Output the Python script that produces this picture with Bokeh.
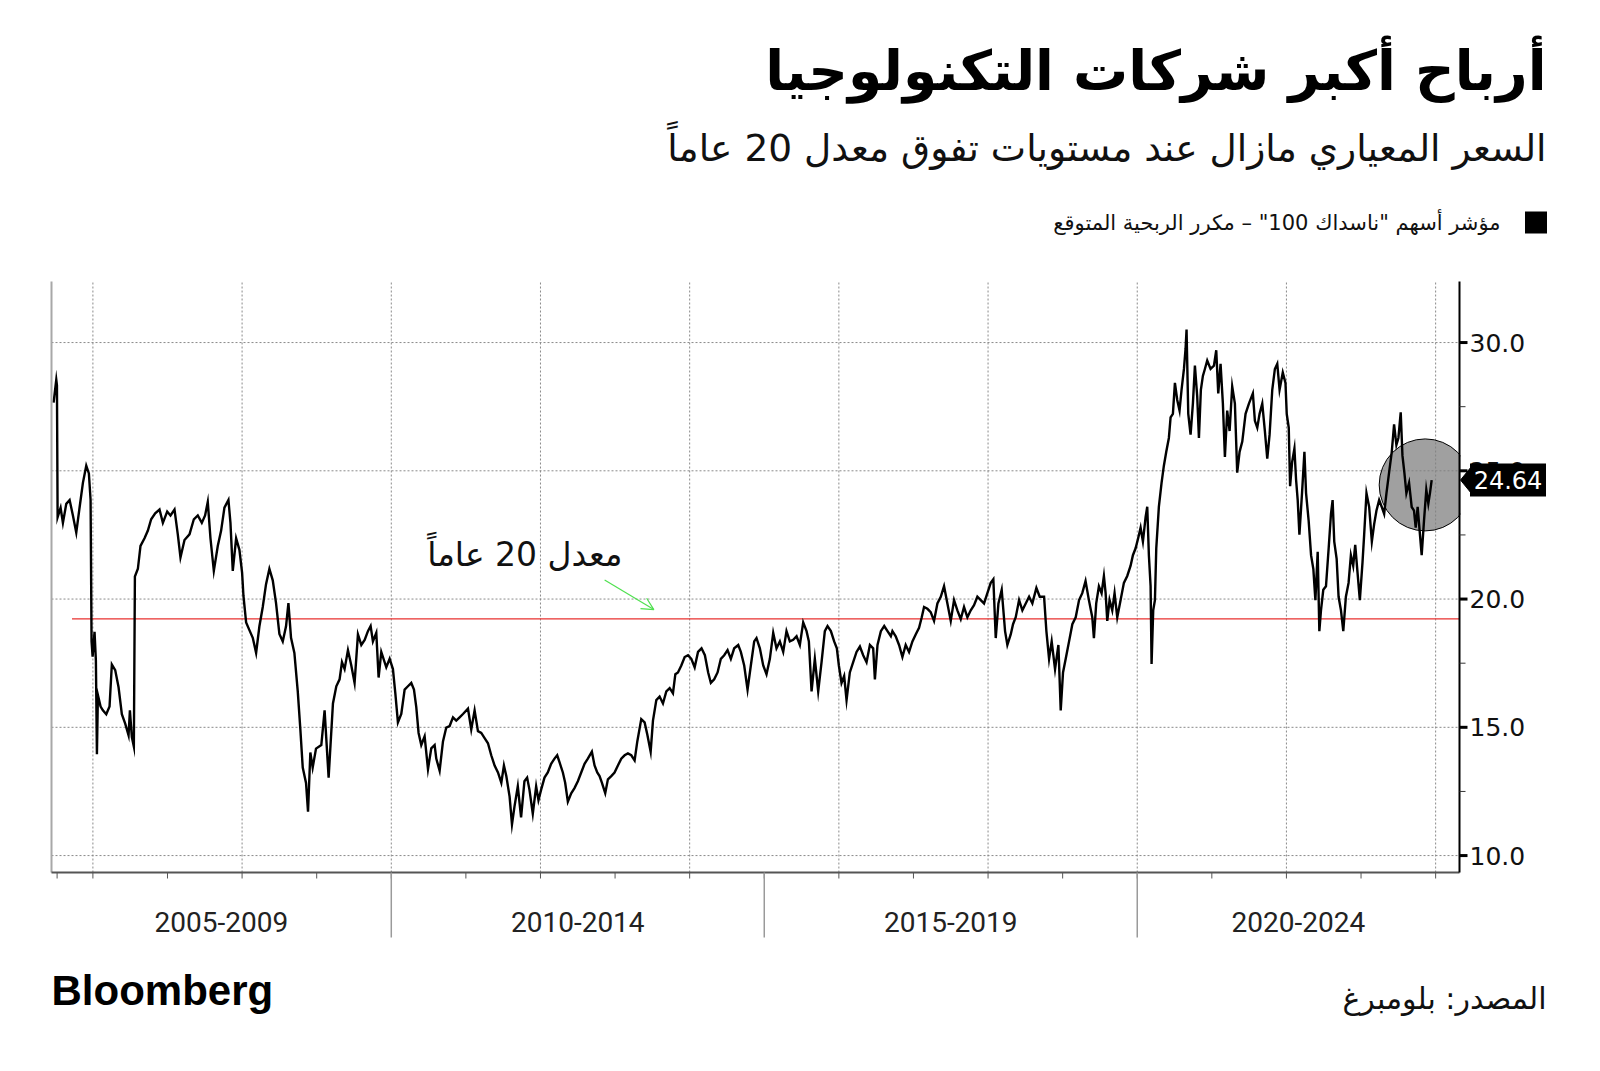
from bokeh.plotting import figure
from bokeh.models import Range1d, Arrow, OpenHead, ColumnDataSource
from bokeh.core.properties import value
from bokeh.embed import file_html
from bokeh.resources import INLINE

# ---------------- data ----------------
title_text = "أرباح أكبر شركات التكنولوجيا"
subtitle_text = "السعر المعياري مازال عند مستويات تفوق معدل 20 عاماً"
legend_text = 'مؤشر أسهم "ناسداك 100" – مكرر الربحية المتوقع'
avg_label = "معدل 20 عاماً"
source_text = "المصدر: بلومبرغ"
brand_text = "Bloomberg"

period_labels = ["2005-2009", "2010-2014", "2015-2019", "2020-2024"]
period_bounds = [2010, 2015, 2020]
y_ticks = [10, 15, 20, 25, 30]
y_minor_ticks = [12.5, 17.5, 22.5, 27.5]
avg_20y = 19.23
last_value = 24.64

years = [
    2005.473, 2005.509, 2005.518, 2005.527, 2005.567, 2005.598, 2005.643, 2005.688, 2005.732, 2005.777,
    2005.821, 2005.866, 2005.911, 2005.946, 2005.969, 2005.982, 2005.996, 2006.022, 2006.040, 2006.054,
    2006.067, 2006.103, 2006.134, 2006.179, 2006.223, 2006.254, 2006.299, 2006.344, 2006.388, 2006.433,
    2006.478, 2006.496, 2006.522, 2006.549, 2006.563, 2006.603, 2006.638, 2006.692, 2006.737, 2006.781,
    2006.835, 2006.893, 2006.938, 2006.996, 2007.040, 2007.094, 2007.138, 2007.174, 2007.228, 2007.295,
    2007.353, 2007.406, 2007.460, 2007.504, 2007.540, 2007.576, 2007.621, 2007.674, 2007.719, 2007.763,
    2007.817, 2007.844, 2007.875, 2007.920, 2007.964, 2008.000, 2008.018, 2008.054, 2008.098, 2008.143,
    2008.188, 2008.232, 2008.277, 2008.321, 2008.366, 2008.411, 2008.455, 2008.500, 2008.545, 2008.589,
    2008.621, 2008.656, 2008.701, 2008.746, 2008.781, 2008.813, 2008.857, 2008.884, 2008.915, 2008.946,
    2008.991,
    2009.062, 2009.106, 2009.160, 2009.218, 2009.263, 2009.307, 2009.339, 2009.374, 2009.419, 2009.464,
    2009.508, 2009.553, 2009.598, 2009.643, 2009.687, 2009.723, 2009.754, 2009.799, 2009.830, 2009.866,
    2009.933, 2009.978, 2010.022, 2010.054, 2010.089, 2010.134, 2010.179, 2010.223, 2010.268, 2010.304,
    2010.335, 2010.366, 2010.402, 2010.447, 2010.492, 2010.536, 2010.581, 2010.603, 2010.648, 2010.693,
    2010.737, 2010.782, 2010.827, 2010.871, 2010.916, 2010.961, 2011.028, 2011.072, 2011.117, 2011.162,
    2011.206, 2011.251, 2011.296, 2011.340, 2011.385, 2011.430, 2011.475, 2011.510, 2011.542, 2011.586,
    2011.618,
    2011.651, 2011.696, 2011.740, 2011.785, 2011.821, 2011.852, 2011.897, 2011.942, 2011.973, 2012.009,
    2012.054, 2012.098, 2012.143, 2012.188, 2012.224, 2012.255, 2012.300, 2012.331, 2012.367, 2012.412,
    2012.456, 2012.501, 2012.546, 2012.591, 2012.635, 2012.689, 2012.725, 2012.761, 2012.792, 2012.823,
    2012.868, 2012.904, 2012.949, 2012.993, 2013.038, 2013.083, 2013.128, 2013.172, 2013.217, 2013.262,
    2013.298, 2013.351, 2013.396, 2013.432, 2013.477, 2013.508, 2013.553, 2013.597, 2013.642, 2013.687,
    2013.732, 2013.776, 2013.808, 2013.843, 2013.888, 2013.933, 2013.978, 2014.022, 2014.067, 2014.112,
    2014.159, 2014.204, 2014.248, 2014.284, 2014.329, 2014.374, 2014.418, 2014.463, 2014.508, 2014.552,
    2014.597, 2014.651, 2014.686, 2014.731, 2014.776, 2014.820, 2014.865, 2014.896, 2014.941, 2014.986,
    2015.030, 2015.075, 2015.120, 2015.164, 2015.209, 2015.254, 2015.298, 2015.343, 2015.388, 2015.433,
    2015.477, 2015.522, 2015.567, 2015.598, 2015.634, 2015.678, 2015.723, 2015.768, 2015.812, 2015.848,
    2015.893, 2015.937, 2015.973, 2016.000, 2016.036, 2016.071, 2016.103, 2016.147, 2016.192, 2016.237,
    2016.282, 2016.326, 2016.371, 2016.416, 2016.460, 2016.483, 2016.518, 2016.563, 2016.608, 2016.652,
    2016.697,
    2016.718, 2016.762, 2016.807, 2016.852, 2016.896, 2016.941, 2016.986, 2017.030, 2017.075, 2017.111,
    2017.142, 2017.187, 2017.231, 2017.276, 2017.321, 2017.366, 2017.410, 2017.455, 2017.500, 2017.544,
    2017.589, 2017.634, 2017.678, 2017.723, 2017.768, 2017.812, 2017.857, 2017.902, 2017.946, 2017.991,
    2018.036, 2018.071, 2018.103, 2018.139, 2018.183, 2018.228, 2018.259, 2018.304, 2018.335, 2018.371,
    2018.416, 2018.460, 2018.505, 2018.550, 2018.594, 2018.648, 2018.693, 2018.751, 2018.782, 2018.818,
    2018.853, 2018.898, 2018.943, 2018.974, 2019.005, 2019.041, 2019.086, 2019.130, 2019.175, 2019.220,
    2019.263, 2019.307, 2019.352, 2019.397, 2019.419, 2019.450, 2019.486, 2019.522, 2019.553, 2019.576,
    2019.598, 2019.629, 2019.665, 2019.696, 2019.732, 2019.777, 2019.821, 2019.866, 2019.911, 2019.942,
    2019.978, 2020.013, 2020.045, 2020.076, 2020.112, 2020.134, 2020.156, 2020.179, 2020.192, 2020.214,
    2020.237, 2020.255, 2020.290, 2020.326, 2020.357, 2020.389, 2020.424, 2020.447, 2020.478, 2020.505,
    2020.536, 2020.567, 2020.594, 2020.626, 2020.648, 2020.661, 2020.684, 2020.715, 2020.746, 2020.773,
    2020.804, 2020.827, 2020.853, 2020.880, 2020.907, 2020.938, 2020.983, 2021.028, 2021.059, 2021.086,
    2021.117, 2021.148, 2021.175, 2021.206, 2021.238, 2021.273, 2021.309, 2021.340, 2021.372, 2021.408,
    2021.452, 2021.497, 2021.550, 2021.577, 2021.609, 2021.640, 2021.676, 2021.711, 2021.743, 2021.774,
    2021.810, 2021.845, 2021.877, 2021.908,
    2021.951, 2021.987, 2022.004, 2022.031, 2022.049, 2022.076, 2022.107, 2022.129, 2022.151, 2022.174,
    2022.209, 2022.241, 2022.263, 2022.298, 2022.330, 2022.361, 2022.388, 2022.419, 2022.441, 2022.463,
    2022.494, 2022.530, 2022.566, 2022.597, 2022.619, 2022.641, 2022.673, 2022.699, 2022.731, 2022.762,
    2022.797, 2022.833, 2022.864, 2022.895, 2022.922, 2022.953, 2022.984, 2023.020, 2023.042, 2023.073,
    2023.109, 2023.145, 2023.176, 2023.207, 2023.243, 2023.278, 2023.310, 2023.341, 2023.376, 2023.412,
    2023.443, 2023.474, 2023.501, 2023.532, 2023.555, 2023.581, 2023.608, 2023.644, 2023.679, 2023.710,
    2023.733, 2023.759, 2023.786, 2023.813, 2023.844, 2023.875, 2023.902, 2023.924, 2023.947,
]

pe = [
    27.66, 28.55, 28.33, 23.19, 23.56, 22.97, 23.71, 23.86, 23.26, 22.59,
    23.56, 24.53, 25.20, 24.90, 23.86, 18.35, 17.75, 18.72, 17.60, 13.95,
    16.26, 15.81, 15.66, 15.51, 15.81, 17.45, 17.23, 16.56, 15.51, 15.14,
    14.69, 15.66, 14.62, 14.25, 20.88, 21.18, 22.07, 22.37, 22.67, 23.11,
    23.34, 23.49, 22.97, 23.41, 23.26, 23.49, 22.52, 21.62, 22.30, 22.52,
    23.11, 23.26, 22.97, 23.26, 23.79, 22.37, 21.10, 22.07, 22.67, 23.56,
    23.86, 22.97, 21.10, 22.37, 21.92, 21.03, 20.13, 19.09, 18.79, 18.49,
    17.90, 18.94, 19.69, 20.58, 21.18, 20.73, 19.84, 18.64, 18.35, 18.94,
    19.84, 18.49, 17.90, 16.41, 14.92, 13.43, 12.83, 11.71, 14.02, 13.43,
    14.17,
    14.31, 15.66, 13.04, 15.93, 16.60, 16.87, 17.54, 17.27, 18.01, 17.41,
    16.73, 18.62, 18.21, 18.41, 18.75, 18.95, 18.35, 18.68, 16.94, 17.94,
    17.34, 17.67, 17.27, 16.33, 15.19, 15.52, 16.47, 16.60, 16.73, 16.47,
    15.79, 14.78, 14.31, 14.65, 13.37, 14.18, 14.31, 13.78, 13.31, 14.45,
    14.99, 15.05, 15.39, 15.26, 15.39, 15.52, 15.73, 14.92, 15.66, 14.85,
    14.78, 14.58, 14.38, 13.91, 13.51, 13.24, 12.84, 13.51, 13.10, 12.30,
    11.22,
    11.90, 12.70, 11.49, 12.90, 13.04, 12.57, 11.63, 12.70, 12.16, 12.57,
    13.04, 13.24, 13.58, 13.78, 13.91, 13.64, 13.24, 12.84, 12.10, 12.43,
    12.63, 12.90, 13.24, 13.58, 13.78, 14.05, 13.51, 13.24, 13.10, 12.84,
    12.43, 12.97, 13.10, 13.24, 13.51, 13.78, 13.91, 13.98, 13.91, 13.71,
    14.45, 15.32, 15.19, 14.72, 14.05, 15.26, 16.06, 16.20, 15.93, 16.40,
    16.53, 16.33, 17.07, 17.14, 17.41, 17.74, 17.81, 17.67, 17.34, 17.94,
    18.08, 17.81, 17.14, 16.73, 16.87, 17.14, 17.67, 17.81, 18.01, 17.67,
    18.08, 18.21, 17.94, 17.41, 16.47, 17.41, 18.35, 18.48, 18.08, 17.41,
    17.07, 17.67, 18.68, 18.08, 18.35, 17.94, 18.75, 18.35, 18.41, 18.55,
    18.21, 19.09, 18.75, 18.35, 16.40, 17.67, 16.40, 17.54, 18.75, 18.95,
    18.75, 18.35, 18.08, 17.41, 16.73, 17.00, 16.06, 17.14, 17.54, 17.94,
    18.15, 17.81, 17.54, 18.21, 18.08, 16.87, 18.21, 18.75, 18.95, 18.75,
    18.55,
    18.75, 18.55, 18.21, 17.74, 18.21, 17.94, 18.35, 18.62, 18.88, 19.29,
    19.69, 19.62, 19.49, 19.15, 19.83, 20.09, 20.50, 19.83, 19.15, 19.96,
    19.56, 19.22, 19.69, 19.29, 19.56, 19.76, 20.09, 19.96, 19.83, 20.23,
    20.63, 20.77, 18.48, 19.83, 20.36, 18.75, 18.21, 18.62, 19.02, 19.29,
    19.96, 19.56, 19.83, 20.09, 19.83, 20.43, 20.09, 20.09, 18.75, 17.67,
    18.35, 17.27, 18.21, 15.66, 17.14, 17.67, 18.35, 19.02, 19.29, 19.96,
    20.23, 20.70, 19.96, 19.29, 18.48, 19.83, 20.50, 20.23, 20.90, 20.23,
    19.15, 19.96, 19.56, 20.23, 19.29, 19.96, 20.63, 20.90, 21.30, 21.71,
    21.98, 22.38, 22.78, 22.24, 23.19, 23.60, 21.71, 20.50, 17.47, 19.56,
    19.96, 21.98, 23.60, 24.53, 25.20, 25.74, 26.28, 27.08, 27.22, 28.43,
    27.76, 27.35, 28.16, 28.97, 29.77, 30.51, 27.22, 26.41, 27.62, 29.10,
    27.89, 26.28, 28.16, 28.70, 28.97, 29.30, 28.97, 29.10, 29.70, 28.02,
    29.17, 27.62, 25.54, 27.35, 26.55, 28.29, 27.62, 24.93, 25.74, 26.14,
    27.22, 27.62, 28.02, 26.95, 26.68, 27.22, 27.62, 26.55, 25.47, 26.41,
    28.16, 28.97, 29.17, 28.16,
    28.83, 28.43, 27.22, 26.68, 24.40, 25.34, 25.87, 24.66, 23.86, 22.51,
    24.13, 25.74, 24.13, 23.05, 21.71, 21.17, 19.96, 21.84, 18.75, 19.56,
    20.36, 20.50, 21.98, 23.32, 23.86, 22.24, 21.57, 20.09, 19.56, 18.75,
    20.09, 20.63, 21.71, 21.30, 22.11, 21.03, 19.96, 21.44, 22.51, 24.13,
    23.59, 22.24, 22.92, 23.45, 23.86, 23.59, 23.32, 24.13, 24.93, 25.74,
    26.81, 26.01, 26.28, 27.28, 25.60, 24.93, 24.13, 24.53, 23.59, 23.45,
    22.78, 23.59, 22.65, 21.71, 23.05, 24.26, 23.72, 24.13, 24.64,
]

# ---------------- layout (page pixels) ----------------
W, H = 1600, 1071
CL, CR, CT, CB = 51, 1459, 281, 872          # chart box on the page
X0, X1 = 2005.445, 2024.32                   # visible time span
Y0, Y1 = 9.34, 32.38                         # visible value span
AR_FONT = "DejaVu Sans"

ppy = (CR - CL) / (X1 - X0)
ppu = (CB - CT) / (Y1 - Y0)

p = figure(width=W, height=H,
           x_range=Range1d(X0 - CL / ppy, X0 + (W - CL) / ppy),
           y_range=Range1d(Y0 - (H - CB) / ppu, Y1 + CT / ppu),
           toolbar_location=None, output_backend="svg", x_axis_location=None,
           y_axis_location=None, min_border=0, title=None)
p.extra_x_ranges = {"px": Range1d(0, W)}
p.extra_y_ranges = {"py": Range1d(H, 0)}
p.outline_line_color = None
p.background_fill_color = "white"
p.border_fill_color = "white"
for g in p.grid:
    g.visible = False

GRID = dict(line_color="#8a8a8a", line_dash="2 2", line_width=1)

# ---------------- grid ----------------
even_years = list(range(2006, 2025, 2))
p.segment(x0=even_years, y0=[Y0] * len(even_years), x1=even_years, y1=[Y1] * len(even_years), **GRID)
p.segment(x0=[X0] * len(y_ticks), y0=y_ticks, x1=[X1] * len(y_ticks), y1=y_ticks, **GRID)

# ---------------- 20y average ----------------
p.line(x=[2005.72, X1], y=[avg_20y, avg_20y], line_color="#e8312f", line_width=1.2)

# ---------------- highlight circle (clipped at the right spine) ----------------
p.ellipse(x=[2023.86], y=[24.45], width=92, height=92, width_units="screen", height_units="screen",
          fill_color="#808080", fill_alpha=0.75, line_color="black", line_width=1)
p.quad(left=[CR + 1], right=[CR + 40], top=[420], bottom=[550], x_range_name="px", y_range_name="py",
       fill_color="white", line_color=None)

# ---------------- series ----------------
src = ColumnDataSource(dict(x=years, y=pe))
p.line("x", "y", source=src, line_color="black", line_width=2.4, line_join="miter")

# ---------------- annotation ----------------
p.text(x=[2011.79], y=[21.73], text=[avg_label], text_font=value(AR_FONT), text_font_size="33px",
       text_align="center", text_baseline="middle", text_color="#111111")
p.add_layout(Arrow(end=OpenHead(size=12, line_color="#4fe04f", line_width=1.2),
                   x_start=2012.86, y_start=20.74, x_end=2013.52, y_end=19.59,
                   line_color="#4fe04f", line_width=1.2))

# ---------------- spines ----------------
p.segment(x0=[X0], y0=[Y0], x1=[X0], y1=[Y1], line_color="#a8a8a8", line_width=2)
p.segment(x0=[X0], y0=[Y0], x1=[X1], y1=[Y0], line_color="#555555", line_width=2)
p.segment(x0=[X1], y0=[Y0], x1=[X1], y1=[Y1], line_color="black", line_width=2)

# ---------------- right value axis ----------------
p.segment(x0=[CR] * len(y_ticks), y0=y_ticks, x1=[CR + 8] * len(y_ticks), y1=y_ticks,
          x_range_name="px", line_color="black", line_width=3)
p.segment(x0=[CR] * len(y_minor_ticks), y0=y_minor_ticks, x1=[CR + 6] * len(y_minor_ticks),
          y1=y_minor_ticks, x_range_name="px", line_color="#333333", line_width=1)
p.text(x=[CR + 10] * len(y_ticks), y=y_ticks, text=[f"{t:.1f}" for t in y_ticks], x_range_name="px",
       text_font=value(AR_FONT), text_font_size="25px", text_align="left", text_baseline="middle",
       text_color="#111111")

# last value tag
tag_h = 13.5 / ppu
p.patch(x=[CR + 1, CR + 12, CR + 12], y=[last_value, last_value + tag_h, last_value - tag_h],
        x_range_name="px", fill_color="black", line_color="black")
p.rect(x=[1507.5], y=[last_value], width=76, height=33, width_units="screen", height_units="screen",
       x_range_name="px", fill_color="black", line_color=None)
p.text(x=[1507.5], y=[last_value], text=[f"{last_value:.2f}"], x_range_name="px",
       text_font=value(AR_FONT), text_font_size="24px", text_align="center", text_baseline="middle",
       text_color="white")

# ---------------- time axis ----------------
tick_years = [2005.52] + list(range(2006, 2025))
p.segment(x0=tick_years, y0=[CB] * len(tick_years), x1=tick_years, y1=[CB + 6] * len(tick_years),
          y_range_name="py", line_color="#555555", line_width=1)
p.segment(x0=period_bounds, y0=[CB] * 3, x1=period_bounds, y1=[CB + 65] * 3, y_range_name="py",
          line_color="#9a9a9a", line_width=1.5)
edges = [X0] + period_bounds + [X1]
centers = [(edges[i] + edges[i + 1]) / 2 for i in range(len(period_labels))]
p.text(x=centers, y=[921] * len(centers), text=period_labels, y_range_name="py",
       text_font=value("Roboto"), text_font_size="28px", text_align="center", text_baseline="middle",
       text_color="#222222")

# ---------------- header ----------------
p.text(x=[1546], y=[70], text=[title_text], x_range_name="px", y_range_name="py",
       text_font=value(AR_FONT), text_font_style="bold", text_font_size="55px",
       text_align="right", text_baseline="middle", text_color="#000000")
p.text(x=[1546], y=[147], text=[subtitle_text], x_range_name="px", y_range_name="py",
       text_font=value(AR_FONT), text_font_size="37.5px", text_align="right", text_baseline="middle",
       text_color="#111111")
p.rect(x=[1535.5], y=[222], width=22, height=22, x_range_name="px", y_range_name="py",
       fill_color="black", line_color=None)
p.text(x=[1500], y=[222], text=[legend_text], x_range_name="px", y_range_name="py",
       text_font=value(AR_FONT), text_font_size="21px", text_align="right", text_baseline="middle",
       text_color="#111111")

# ---------------- footer ----------------
p.text(x=[51], y=[1013], text=[brand_text], x_range_name="px", y_range_name="py",
       text_font=value("Liberation Sans"), text_font_style="bold", text_font_size="42px",
       text_align="left", text_baseline="bottom", text_color="#000000")
p.text(x=[1546], y=[998], text=[source_text], x_range_name="px", y_range_name="py",
       text_font=value(AR_FONT), text_font_size="30px", text_align="right", text_baseline="middle",
       text_color="#111111")

open("out.html", "w").write(file_html(p, INLINE))
